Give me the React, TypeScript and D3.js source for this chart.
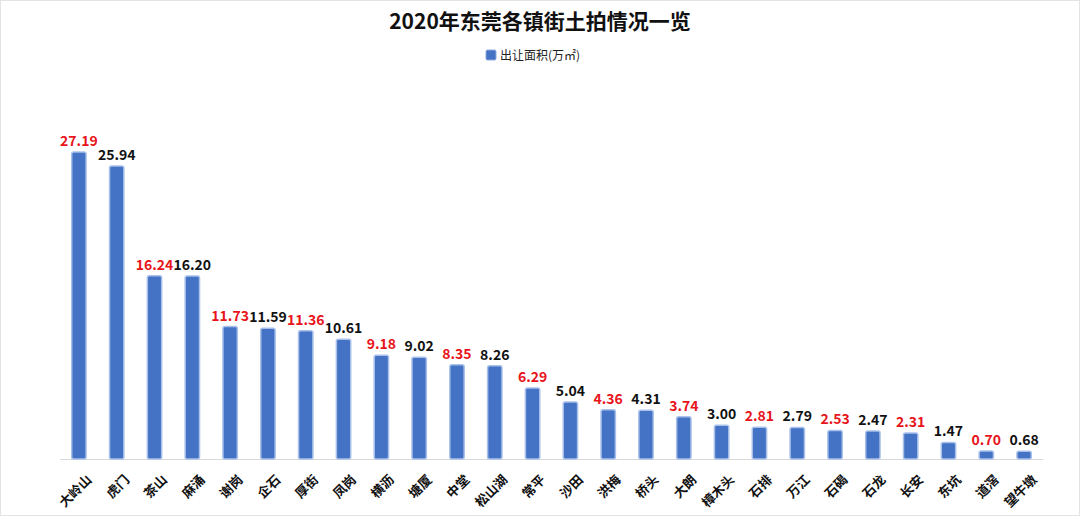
import React, { useEffect } from 'react';
import * as d3 from 'd3';

const towns = ['大岭山', '虎门', '茶山', '麻涌', '谢岗', '企石', '厚街', '凤岗', '横沥', '塘厦', '中堂', '松山湖', '常平', '沙田', '洪梅', '桥头', '大朗', '樟木头', '石排', '万江', '石碣', '石龙', '长安', '东坑', '道滘', '望牛墩'];
const area = [27.19, 25.94, 16.24, 16.2, 11.73, 11.59, 11.36, 10.61, 9.18, 9.02, 8.35, 8.26, 6.29, 5.04, 4.36, 4.31, 3.74, 3.0, 2.81, 2.79, 2.53, 2.47, 2.31, 1.47, 0.7, 0.68];
const title = '2020年东莞各镇街土拍情况一览';
const seriesName = '出让面积(万㎡)';

const W = 1080;
const H = 516;
const font = '"Noto Sans CJK SC", "Noto Sans", sans-serif';

export default function App() {
  useEffect(() => {
    document.body.style.margin = '0';
  }, []);

  const x = d3.scaleBand().domain(towns).range([60, 1043]).paddingInner(0.62).paddingOuter(0.31);
  const y = d3.scaleLinear().domain([0, 27.19]).range([459, 152]);
  const bw = x.bandwidth();

  return (
    <svg width={W} height={H} style={{ display: 'block', fontFamily: font, background: '#fff' }}>
      <rect x={0.5} y={0.5} width={W - 1} height={H - 1} fill="#fff" stroke="#e3e3e3" />
      <text x={540} y={29} textAnchor="middle" fontSize={21} fontWeight="bold" fill="#111">{title}</text>
      <g transform="translate(486,50)">
        <rect x={0} y={0} width={10} height={10} rx={1.5} fill="#4472C4" stroke="#8eaadb" />
        <text x={14} y={9.5} fontSize={12} fill="#222">{seriesName}</text>
      </g>
      <line x1={60} x2={1043} y1={459.5} y2={459.5} stroke="#d9d9d9" strokeWidth={1} />
      {towns.map((t, i) => {
        const cx = (x(t) ?? 0) + bw / 2;
        const top = y(area[i]);
        return (
          <g key={t}>
            <rect x={cx - bw / 2} y={top} width={bw} height={459 - top} rx={2} fill="#4472C4" stroke="#a9c1ea" strokeWidth={1.5} />
            <text x={cx} y={top - 6} textAnchor="middle" fontSize={14} fontWeight="bold" fill={i % 2 === 0 ? '#e8141b' : '#111'}>
              {area[i].toFixed(2)}
            </text>
            <text transform={`translate(${cx + 5},${472}) rotate(-45)`} textAnchor="end" fontSize={13} fontWeight="bold" fill="#111" dominantBaseline="hanging">
              {t}
            </text>
          </g>
        );
      })}
    </svg>
  );
}
